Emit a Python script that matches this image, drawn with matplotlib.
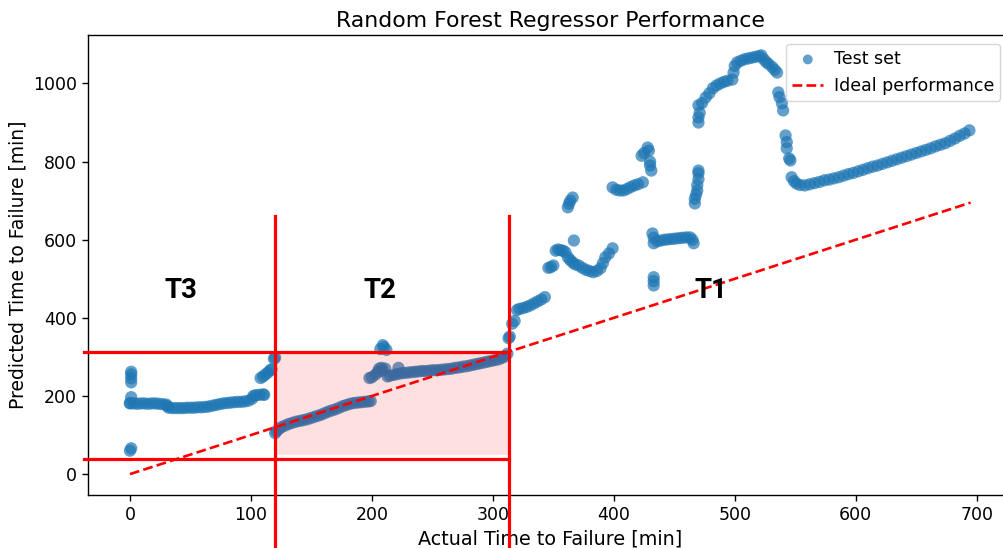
"""
Random Forest regressor: predicted vs actual time to failure, with T1/T2/T3 zones.
"""
import matplotlib
matplotlib.use("Agg")
import matplotlib.pyplot as plt
from matplotlib.patches import Rectangle

# ---- data (minutes) ----
t3_actual = [0, 1, 1, 1, 1, 1, 1, 0,
             0, 3, 6, 9, 12, 15, 18, 21, 24, 27, 30, 31, 32, 35, 38, 41, 44, 47,
             50, 53, 56, 59, 62, 65, 68, 71, 74, 77, 80, 83, 86, 89, 92, 95, 98,
             101, 102, 104, 107, 110, 111,
             108, 110, 112, 114, 116, 117, 119, 120]
t3_pred = [60, 66, 255, 262, 245, 235, 197, 182,
           181, 181, 180, 181, 181, 180, 181, 181, 180, 179, 178, 174, 170, 169, 169, 169, 169, 170,
           170, 170, 171, 171, 172, 173, 175, 177, 179, 181, 182, 183, 184, 185, 185, 186, 188,
           193, 200, 202, 203, 204, 203,
           246, 250, 255, 260, 266, 268, 295, 298]

t2_actual = [120, 121, 123, 125, 128, 131, 134, 137, 140, 143, 146, 149, 152, 155, 158,
             161, 164, 167, 170, 173, 176, 179, 182, 185, 188, 191, 194, 197, 199,
             198, 200, 203, 205, 206, 208, 209, 211, 210, 207, 209, 212, 222,
             213, 215, 218, 221, 224, 227, 230, 233, 236, 239, 242, 245, 248, 251, 254,
             257, 260, 263, 266, 269, 272, 275, 278, 281, 284, 287, 290, 293, 296, 299,
             302, 305, 308, 310, 312]
t2_pred = [105, 110, 115, 120, 124, 128, 131, 134, 136, 138, 140, 143, 146, 149, 152,
           156, 160, 163, 166, 170, 174, 177, 180, 182, 183, 184, 185, 186, 187,
           246, 248, 255, 262, 270, 272, 265, 270, 325, 320, 330, 318, 272,
           250, 252, 254, 256, 258, 259, 260, 261, 262, 263, 264, 264, 265, 266, 266,
           267, 268, 269, 270, 272, 273, 275, 276, 278, 280, 282, 284, 286, 288, 290,
           292, 294, 298, 302, 308]

t1_actual = [313, 314, 316, 318, 320, 322, 325, 328, 331, 334, 337, 340, 343,
             346, 348, 350, 352, 354, 356, 358, 360, 362, 364, 366, 368, 371, 374, 377,
             380, 383, 386, 389, 391, 393, 396, 399, 367,
             362, 363, 364, 366,
             399, 402, 405, 408, 411, 414, 417, 420, 424,
             423, 425, 428, 429, 430, 430, 431,
             432, 433, 433, 436, 439, 442, 445, 448, 451, 454, 457, 460, 463, 465, 466,
             433, 433, 433,
             467, 467, 468, 469, 469, 470, 470, 470,
             470, 470, 471, 470, 473, 476, 479, 482, 485, 488, 491, 494, 498, 499, 500,
             502, 505, 508, 511, 514, 517, 520, 522, 524, 526, 528, 531, 533, 535,
             536, 537, 539, 540, 542, 543, 543, 545, 546, 547, 549, 551, 554,
             558, 562, 566, 570, 574, 578, 582, 586, 590, 594, 598, 602, 606, 610,
             614, 618, 622, 626, 630, 634, 638, 642, 646, 650, 654, 658, 662, 666,
             670, 674, 678, 682, 686, 690, 694]
t1_pred = [348, 352, 385, 392, 420, 423, 425, 428, 432, 437, 442, 447, 453,
           528, 530, 534, 572, 575, 573, 572, 568, 555, 548, 542, 537, 534, 528, 523,
           520, 517, 520, 527, 540, 555, 565, 578, 598,
           683, 692, 700, 708,
           734, 728, 726, 726, 730, 735, 739, 742, 747,
           815, 822, 836, 828, 800, 790, 777,
           616, 605, 591, 596, 598, 600, 601, 602, 603, 604, 605, 606, 606, 600, 591,
           504, 494, 483,
           693, 705, 715, 726, 740, 755, 770, 777,
           900, 913, 925, 944, 950, 964, 975, 988, 995, 1000, 1004, 1007, 1010, 1028, 1045,
           1054, 1058, 1062, 1064, 1066, 1068, 1070, 1072, 1062, 1055, 1050, 1042, 1035, 1028,
           977, 965, 949, 931, 867, 850, 834, 808, 803, 760, 750, 744, 740,
           739, 742, 745, 748, 752, 754, 757, 760, 764, 768, 771, 775, 779, 783,
           787, 790, 794, 798, 802, 806, 810, 814, 818, 822, 826, 830, 834, 839,
           843, 847, 853, 859, 866, 872, 880]

ideal_range = [0, 695]

# zone boundaries (minutes)
zone_x = [120, 313]
zone_y = [38, 312]
zone_labels = ["T3", "T2", "T1"]
zone_label_x = [42, 207, 480]
zone_label_y = 470


def main():
    plt.rcParams.update({
        "font.family": ["DejaVu Sans"],
        "font.size": 12.5,
        "axes.linewidth": 1.0,
        "xtick.major.width": 1.0,
        "ytick.major.width": 1.0,
        "xtick.major.size": 4.5,
        "ytick.major.size": 4.5,
    })

    fig = plt.figure(figsize=(10.04, 5.48), dpi=100)
    ax = fig.add_axes([0.0876, 0.0967, 0.921, 0.839])

    actual = t3_actual + t2_actual + t1_actual
    predicted = t3_pred + t2_pred + t1_pred

    ax.scatter(actual, predicted, s=78, alpha=0.7, color="#1f77b4",
               edgecolors="none", label="Test set", zorder=2)
    ax.plot(ideal_range, ideal_range, "r--", linewidth=1.9,
            label="Ideal performance", zorder=4)

    # T2 zone shading
    ax.add_patch(Rectangle((zone_x[0], zone_y[0] + 10), zone_x[1] - zone_x[0],
                           zone_y[1] - zone_y[0] - 10, facecolor="red",
                           alpha=0.12, edgecolor="none", zorder=3))

    # zone frame lines, drawn past the axes like the annotated original
    for x in zone_x:
        ax.plot([x, x], [660, -220], color="red", linewidth=2.3,
                clip_on=False, zorder=5)
    for y in zone_y:
        ax.plot([-38, zone_x[1]], [y, y], color="red", linewidth=2.3,
                clip_on=False, zorder=5)

    for lbl, x in zip(zone_labels, zone_label_x):
        ax.text(x, zone_label_y, lbl, ha="center", va="center",
                fontsize=20, fontweight="bold", family="Roboto", zorder=6)

    ax.set_xlim(-34.75, 729.75)
    ax.set_ylim(-53.5, 1123.5)
    ax.set_xlabel("Actual Time to Failure [min]", fontsize=13.8)
    ax.set_ylabel("Predicted Time to Failure [min]", fontsize=13.5)
    ax.set_title("Random Forest Regressor Performance", fontsize=15.8)
    ax.legend(loc="upper right", bbox_to_anchor=(0.996, 1.0), fontsize=12.5,
              markerscale=0.8, handlelength=1.8, borderpad=0.35,
              handletextpad=0.6)

    fig.savefig("out.png", dpi=100, facecolor="white")
    plt.close(fig)


if __name__ == "__main__":
    main()
